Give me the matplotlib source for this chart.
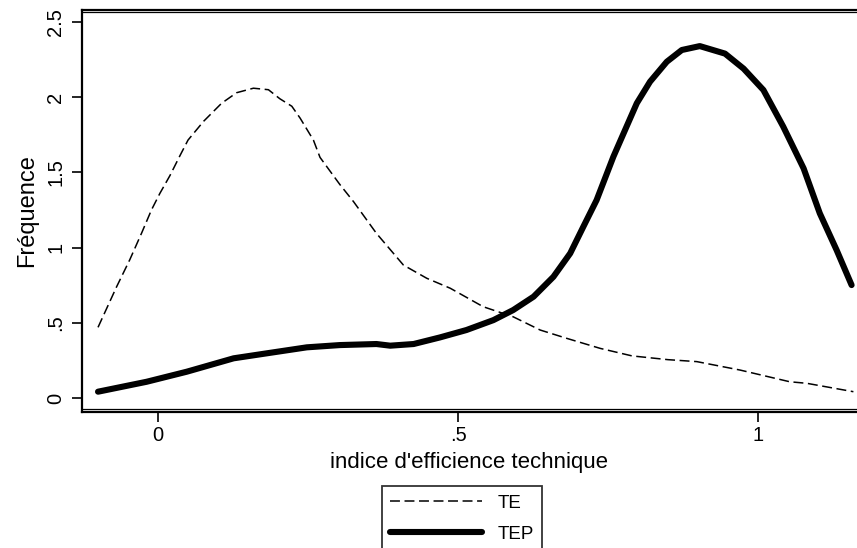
import numpy as np
import matplotlib
matplotlib.use("Agg")
import matplotlib.pyplot as plt
from matplotlib.lines import Line2D

plt.rcParams["font.family"] = ["Liberation Sans", "DejaVu Sans"]

# ── data ────────────────────────────────────────────────────────────────────
te_x = [-0.100, -0.069, -0.047, -0.027, -0.011, 0.003, 0.020, 0.037, 0.050,
        0.076, 0.106, 0.131, 0.159, 0.184, 0.203, 0.223, 0.237, 0.259, 0.270,
        0.303, 0.326, 0.364, 0.409, 0.448, 0.487, 0.542, 0.592, 0.637, 0.681,
        0.737, 0.790, 0.850, 0.898, 0.970, 1.053, 1.081, 1.159]
te_y = [0.47, 0.74, 0.92, 1.10, 1.25, 1.36, 1.48, 1.615, 1.715,
        1.84, 1.96, 2.03, 2.06, 2.05, 1.99, 1.94, 1.86, 1.715, 1.60,
        1.42, 1.305, 1.095, 0.884, 0.796, 0.73, 0.607, 0.54, 0.452, 0.397,
        0.33, 0.28, 0.255, 0.242, 0.186, 0.108, 0.098, 0.042]

tep_x = [-0.100, -0.019, 0.048, 0.126, 0.181, 0.248, 0.303, 0.364, 0.387,
         0.426, 0.470, 0.514, 0.559, 0.592, 0.626, 0.659, 0.687, 0.709, 0.731,
         0.759, 0.776, 0.798, 0.820, 0.848, 0.873, 0.903, 0.945, 0.976, 1.009,
         1.042, 1.076, 1.103, 1.131, 1.156]
tep_y = [0.042, 0.108, 0.175, 0.264, 0.297, 0.337, 0.352, 0.359, 0.348,
         0.359, 0.403, 0.452, 0.518, 0.585, 0.674, 0.806, 0.962, 1.14, 1.316,
         1.605, 1.76, 1.96, 2.103, 2.236, 2.314, 2.34, 2.29, 2.19, 2.048,
         1.805, 1.527, 1.228, 0.984, 0.751]

x_ticks = [0, 0.5, 1]
x_tick_labels = ["0", ".5", "1"]
y_ticks = [0, 0.5, 1, 1.5, 2, 2.5]
y_tick_labels = ["0", ".5", "1", "1.5", "2", "2.5"]

# ── figure ───────────────────────────────────────────────────────────────────
W, H = 857, 548
fig = plt.figure(figsize=(W / 100, H / 100), dpi=100)
ax = fig.add_axes([82 / W, (H - 412) / H, 1 - 82 / W, 402 / H])

dash = (0, (6.5, 3))
ax.plot(te_x, te_y, color="black", linewidth=1.1, linestyle=dash)
ax.plot(tep_x, tep_y, color="black", linewidth=4.4,
        solid_capstyle="round", solid_joinstyle="round")

ax.set_xlim(-0.1267, 1.165)
ax.set_ylim(-0.093, 2.58)

ax.set_xticks(x_ticks)
ax.set_xticklabels(x_tick_labels)
ax.set_yticks(y_ticks)
ax.set_yticklabels(y_tick_labels, rotation=90, va="center")
ax.tick_params(axis="both", direction="out", length=7, width=1.2,
               labelsize=14.5, colors="black")
ax.tick_params(axis="y", pad=5)
ax.tick_params(axis="x", pad=3)

for side in ["left", "top", "bottom"]:
    ax.spines[side].set_linewidth(1.6)
ax.spines["right"].set_visible(False)

# thin inner rule alongside top and bottom frame (plot region outline)
ax.axhline(-0.093 + 3 / 150.4, color="black", linewidth=0.9)
ax.axhline(2.58 - 2 / 150.4, color="black", linewidth=0.9)

ax.set_xlabel("indice d'efficience technique", fontsize=16, labelpad=5)
ax.set_ylabel("Fréquence", fontsize=17, labelpad=6)

handles = [Line2D([], [], color="black", linewidth=1.1, linestyle=dash),
           Line2D([], [], color="black", linewidth=4.4, solid_capstyle="round")]
leg = fig.legend(handles, ["TE", "TEP"], loc="upper center",
                 bbox_to_anchor=(462 / W, 1 - 486 / H), fontsize=13.5,
                 frameon=True, fancybox=False, handlelength=4.9,
                 handletextpad=0.8, borderpad=0.45, labelspacing=0.75,
                 borderaxespad=0)
leg.get_frame().set_edgecolor("black")
leg.get_frame().set_linewidth(1.3)

fig.savefig("out.png", dpi=100)
